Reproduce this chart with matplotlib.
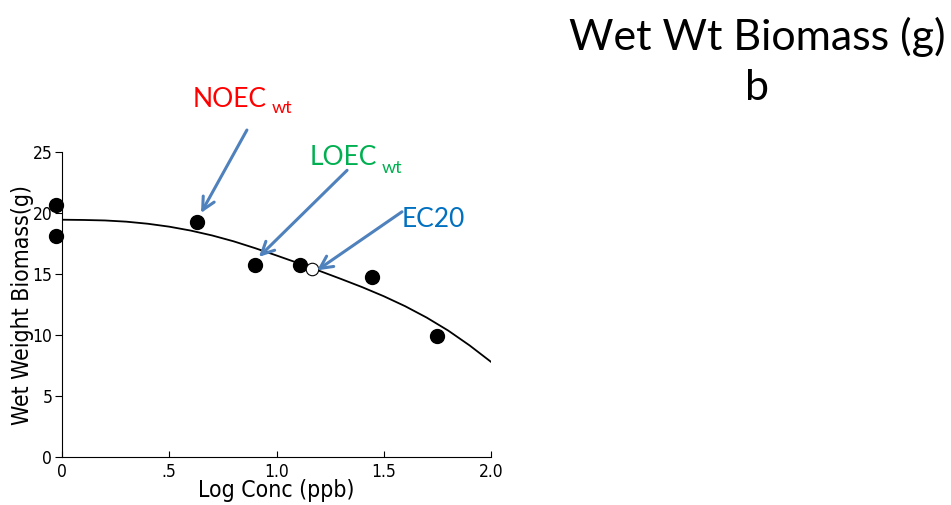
import numpy as np
import matplotlib
matplotlib.use('Agg')
import matplotlib.pyplot as plt

# observed data (log conc, wet weight biomass)
obs_x = [-0.028, -0.028, 0.63, 0.90, 1.11, 1.445, 1.75]
obs_y = [20.65, 18.1, 19.3, 15.7, 15.7, 14.75, 9.9]

# EC20 point
ec20_x = [1.165]
ec20_y = [15.45]

# fitted curve
fit_x = [0.0, 0.1, 0.2, 0.3, 0.4, 0.5, 0.6, 0.7, 0.8, 0.9, 1.0,
         1.1, 1.2, 1.3, 1.4, 1.5, 1.6, 1.7, 1.8, 1.9, 2.0]
fit_y = [19.45, 19.43, 19.39, 19.29, 19.12, 18.88, 18.56, 18.16, 17.68, 17.12, 16.52,
         15.90, 15.26, 14.60, 13.92, 13.18, 12.36, 11.43, 10.37, 9.15, 7.80]

xticks = [0, 0.5, 1.0, 1.5, 2.0]
xticklabels = ['0', '.5', '1.0', '1.5', '2.0']
yticks = [0, 5, 10, 15, 20, 25]

narrow = ['DejaVu Sans']
cal = ['Lato', 'DejaVu Sans']
arrow_col = '#4F81BD'

fig = plt.figure(figsize=(9.51, 5.05), dpi=100)
ax = fig.add_axes([0.0652, 0.0950, 0.4511, 0.604])

ax.plot(fit_x, fit_y, color='black', lw=1.3)
ax.plot(obs_x, obs_y, 'o', color='black', ms=10, clip_on=False, zorder=3)
ax.plot(ec20_x, ec20_y, 'o', mfc='white', mec='black', mew=0.8, ms=9, zorder=3)

ax.set_xlim(0, 2.0)
ax.set_ylim(0, 25)
ax.spines['top'].set_visible(False)
ax.spines['right'].set_visible(False)
ax.set_xticks(xticks)
ax.set_xticklabels(xticklabels, family=narrow, stretch='condensed', fontsize=12.5)
ax.set_yticks(yticks)
ax.set_yticklabels([str(v) for v in yticks], family=narrow, stretch='condensed', fontsize=12.5)
ax.tick_params(axis='x', direction='in', length=4, pad=4)
ax.tick_params(axis='y', direction='out', length=5, pad=2)
ax.set_xlabel('Log Conc (ppb)', family=narrow, stretch='condensed', fontsize=16.5, labelpad=-1)
ax.set_ylabel('Wet Weight Biomass(g)', family=narrow, stretch='condensed', fontsize=16.5, labelpad=-1)

# arrows
arrows = [((0.862, 26.8), (0.648, 20.0)),
          ((1.329, 23.5), (0.918, 16.4)),
          ((1.585, 20.1), (1.189, 15.3))]
for tail, head in arrows:
    ax.annotate('', xy=head, xytext=tail, annotation_clip=False,
                arrowprops=dict(arrowstyle='->,head_length=0.9,head_width=0.45',
                                color=arrow_col, lw=2.2, shrinkA=0, shrinkB=0))

ax.text(0.611, 28.7, 'NOEC', color='#FF0000', fontsize=19, family=cal, va='baseline', clip_on=False)
ax.text(0.979, 28.2, 'wt', color='#FF0000', fontsize=13, family=cal, va='baseline', clip_on=False)
ax.text(1.156, 23.93, 'LOEC', color='#00B050', fontsize=19, family=cal, va='baseline', clip_on=False)
ax.text(1.492, 23.28, 'wt', color='#00B050', fontsize=13, family=cal, va='baseline', clip_on=False)
ax.text(1.585, 18.85, 'EC20', color='#0070C0', fontsize=19, family=cal, va='baseline', clip_on=False)

fig.text(0.796, 0.901, 'Wet Wt Biomass (g)', ha='center', va='baseline', fontsize=31, family=cal)
fig.text(0.796, 0.802, 'b', ha='center', va='baseline', fontsize=31, family=cal)

fig.savefig('out.png', dpi=100)
